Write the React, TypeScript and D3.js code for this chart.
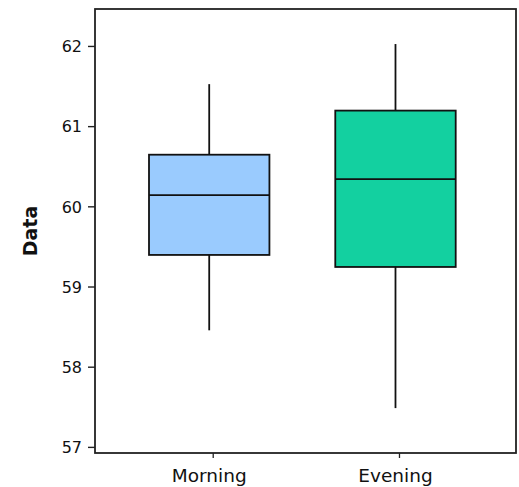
import React from "react";
import * as d3 from "d3";

const categories = ["Morning", "Evening"];
const whiskerLow = [58.46, 57.49];
const q1 = [59.4, 59.25];
const median = [60.145, 60.345];
const q3 = [60.65, 61.2];
const whiskerHigh = [61.53, 62.03];
const fills = ["#9ACBFE", "#13D0A0"];
const yTicks = [57, 58, 59, 60, 61, 62];

const W = 519;
const H = 487;
const left = 95;
const right = 516;
const top = 9;
const bottom = 453;

export default function App() {
  const y = d3.scaleLinear().domain([56.93, 62.467]).range([bottom, top]);
  const x = d3
    .scaleBand<string>()
    .domain(categories)
    .range([149, 455.7])
    .paddingInner(0.3535)
    .paddingOuter(0);
  const bw = x.bandwidth();
  const sw = 1.8;
  return (
    <svg
      width={W}
      height={H}
      style={{ position: "absolute", left: 0, top: 0, background: "#fff" }}
      fontFamily="DejaVu Sans, Verdana, sans-serif"
    >
      <rect x={0} y={0} width={W} height={H} fill="#fff" />
      {categories.map((c, i) => {
        const x0 = x(c)!;
        const cx = x0 + bw / 2;
        return (
          <g key={c}>
            <line x1={cx} x2={cx} y1={y(whiskerHigh[i])} y2={y(q3[i])} stroke="#111" strokeWidth={sw} />
            <line x1={cx} x2={cx} y1={y(q1[i])} y2={y(whiskerLow[i])} stroke="#111" strokeWidth={sw} />
            <rect
              x={x0}
              y={y(q3[i])}
              width={bw}
              height={y(q1[i]) - y(q3[i])}
              fill={fills[i]}
              stroke="#111"
              strokeWidth={sw}
            />
            <line x1={x0} x2={x0 + bw} y1={y(median[i])} y2={y(median[i])} stroke="#111" strokeWidth={sw} />
            <line x1={cx + 4} x2={cx + 4} y1={bottom} y2={bottom + 5} stroke="#222" strokeWidth={1.3} />
            <text x={cx} y={482} textAnchor="middle" fontSize={18.5} fill="#111">
              {c}
            </text>
          </g>
        );
      })}
      <rect
        x={left}
        y={top}
        width={right - left}
        height={bottom - top}
        fill="none"
        stroke="#222"
        strokeWidth={1.8}
      />
      {yTicks.map((t) => (
        <g key={t}>
          <line x1={left - 7} x2={left} y1={y(t)} y2={y(t)} stroke="#222" strokeWidth={1.4} />
          <text x={82} y={y(t)} dy="0.36em" textAnchor="end" fontSize={16} fill="#111">
            {t}
          </text>
        </g>
      ))}
      <text
        transform={`translate(37,231) rotate(-90)`}
        textAnchor="middle"
        fontSize={19}
        fontWeight="bold"
        fill="#111"
      >
        Data
      </text>
    </svg>
  );
}
